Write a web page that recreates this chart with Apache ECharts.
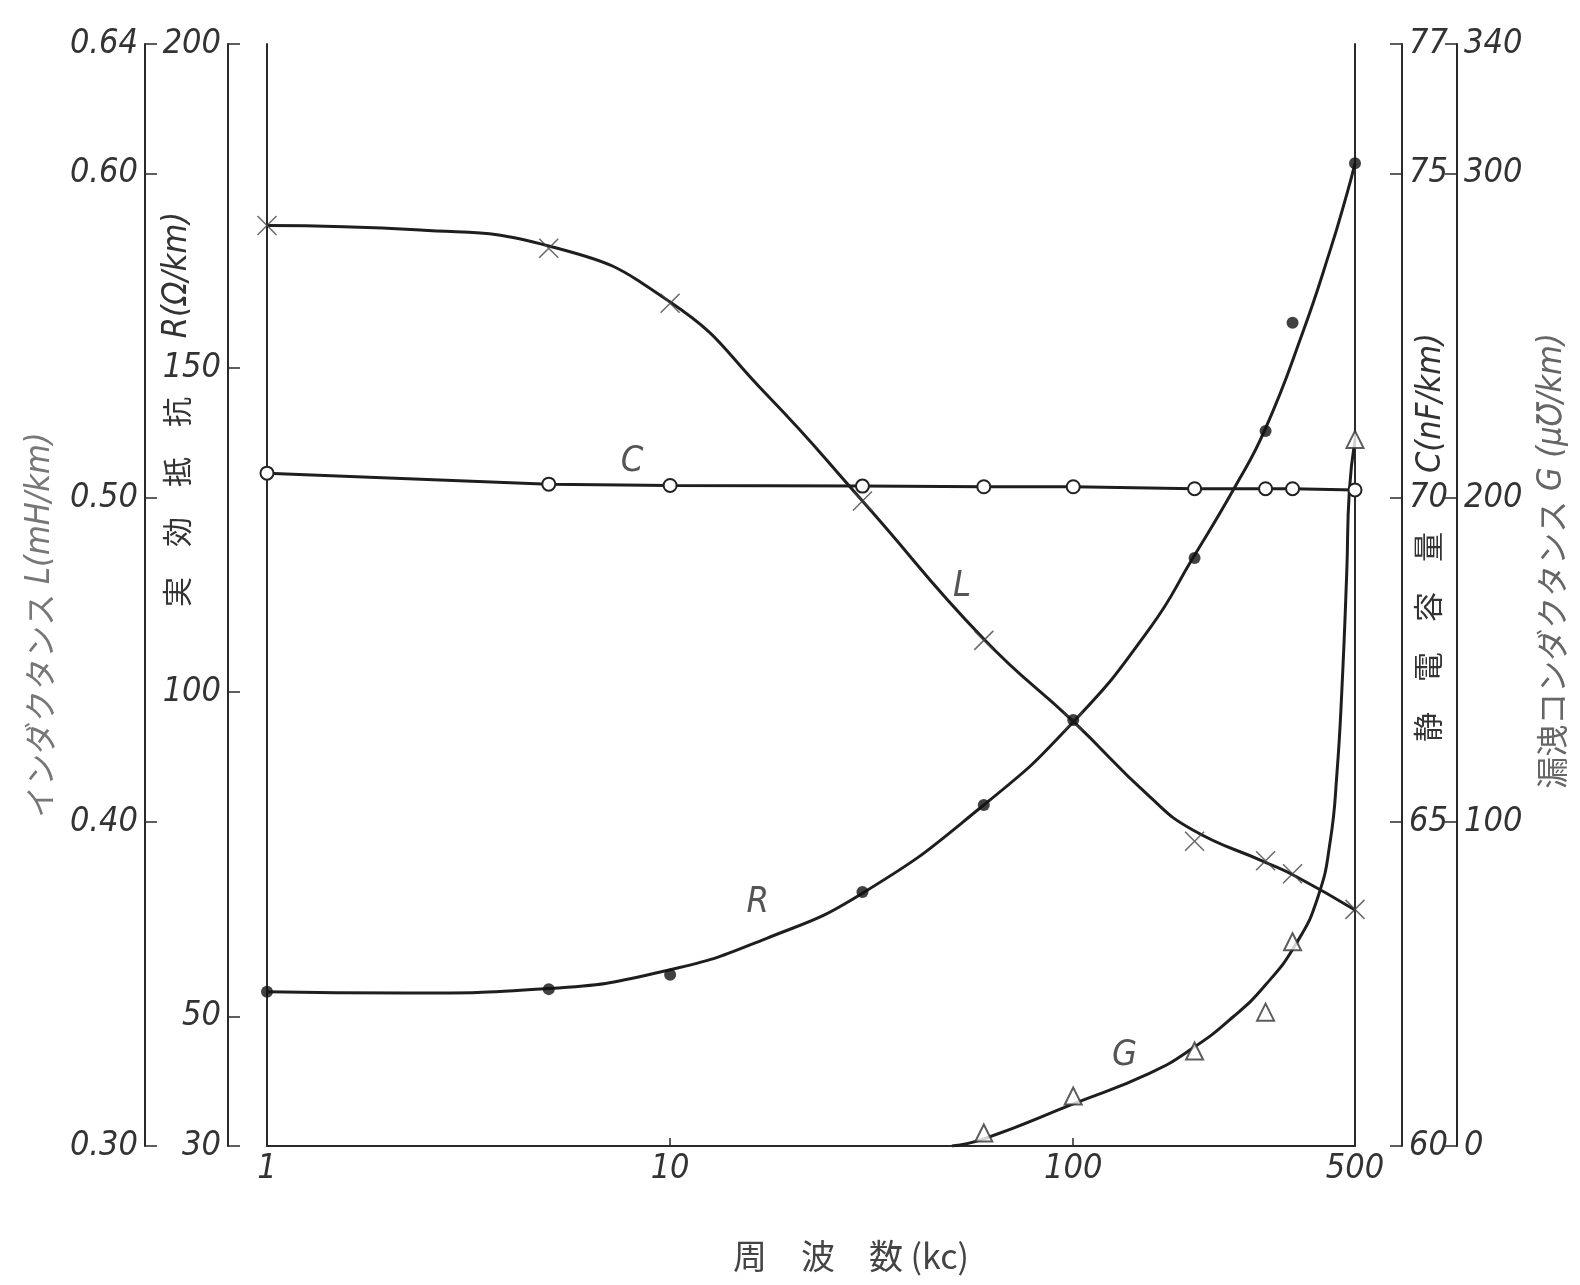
<!DOCTYPE html>
<html lang="ja">
<head>
<meta charset="utf-8">
<title>周波数特性</title>
<script src="https://cdn.jsdelivr.net/npm/echarts@6.0.0/dist/echarts.min.js"></script>
<style>
  html, body { margin: 0; padding: 0; background: #fff; }
  #chart { width: 1580px; height: 1285px; }
</style>
</head>
<body>
<div id="chart"></div>
<script>
// 測定周波数 (kc)
const freqs = [1, 5, 10, 30, 60, 100, 200, 300, 350, 500];
// 測定点
const lPoints = [0.584, 0.577, 0.560, 0.499, 0.456, 0.431, 0.394, 0.388, 0.384, 0.373];
const rPoints = [53.8, 54.2, 56.4, 69.2, 82.6, 95.7, 120.7, 140.3, 157.0, 181.6];
const cPoints = [70.38, 70.21, 70.19, 70.18, 70.17, 70.17, 70.14, 70.14, 70.14, 70.12];
const gFreqs = [60, 100, 200, 300, 350, 500];
const gPoints = [4, 15.4, 29.3, 41.3, 63, 218];

// 手描きの曲線
const lCurveF = [1, 2.4, 5, 10, 17.3, 30, 60, 100, 155, 198, 299, 359, 500];
const lCurve = [0.584, 0.5826, 0.5777, 0.5604, 0.532, 0.499, 0.4564, 0.431, 0.4077, 0.3975, 0.3876, 0.383, 0.3728];
const rCurveF = [1, 2.2, 5, 10, 17.3, 30, 60, 100, 155, 198, 252, 299, 369, 434, 478, 500];
const rCurve = [53.8, 53.6, 54.3, 57.2, 62.0, 69.0, 82.6, 95.4, 109.9, 120.7, 131.7, 140.5, 155.1, 168.2, 177, 181.6];
const gCurveF = [50, 60, 100, 155, 198, 249, 299, 358, 405, 434, 451, 464, 477, 484, 500];
const gCurve = [0, 2.2, 13.0, 22.5, 30.2, 39.8, 49.5, 62.6, 77, 94, 115, 141, 177, 202, 218];

// 目盛
const lTicks = [0.30, 0.40, 0.50, 0.60, 0.64];
const rTicks = [30, 50, 100, 150, 200];
const cTicks = [60, 65, 70, 75, 77];
const gTicks = [0, 100, 200, 300, 340];
const xTicks = [1, 10, 100, 500];

// 曲線名の位置 [kc, 値]
const cTag = [8.05, 70.55];
const lTag = [53, 0.4725];
const rTag = [16.5, 67.5];
const gTag = [134, 27.8];

const INK = '#1e1e1e';
const NUM_FONT = "'Liberation Sans Narrow', 'DejaVu Sans Condensed', 'Liberation Sans', sans-serif";
const JP_FONT = "'Noto Sans CJK JP', sans-serif";

const pair = (xs, ys) => xs.map((x, i) => [x, ys[i]]);

const numLabel = {
  fontSize: 34, fontStyle: 'italic', fontFamily: NUM_FONT, color: '#333'
};

function sideAxis(position, offset, min, max, ticks, fmt) {
  return {
    type: 'value', position, offset, min, max,
    splitLine: { show: false },
    axisLine: { show: true, lineStyle: { color: '#2a2a2a', width: 2 } },
    axisTick: { show: true, inside: true, length: 12, customValues: ticks, lineStyle: { color: '#2a2a2a', width: 1.5 } },
    axisLabel: { ...numLabel, customValues: ticks, formatter: fmt, margin: 7 }
  };
}

function frameAxis(position) {
  return {
    type: 'value', position, offset: 0, min: 0, max: 1,
    splitLine: { show: false },
    axisLine: { show: true, lineStyle: { color: '#2a2a2a', width: 2 } },
    axisTick: { show: false },
    axisLabel: { show: false }
  };
}

function tag(text, coord) {
  return {
    symbol: 'circle', symbolSize: 0, silent: true,
    label: { show: true, formatter: text, ...numLabel, fontSize: 36, color: '#555' },
    data: [{ coord }]
  };
}

const curve = { type: 'line', smooth: 0.5, showSymbol: false, silent: true, lineStyle: { color: INK, width: 3 } };

const chart = echarts.init(document.getElementById('chart'), null, { renderer: 'canvas' });

chart.setOption({
  backgroundColor: '#fff',
  animation: false,
  grid: { left: 267, right: 225, top: 44, bottom: 139 },
  xAxis: {
    type: 'log', logBase: 10, min: 1, max: 500,
    splitLine: { show: false },
    axisLine: { show: true, lineStyle: { color: '#2a2a2a', width: 2 } },
    axisTick: { show: true, inside: true, length: 8, lineStyle: { color: '#2a2a2a', width: 1.5 } },
    axisLabel: { ...numLabel, margin: 6, formatter: v => xTicks.includes(Math.round(v)) ? String(Math.round(v)) : '' }
  },
  yAxis: [
    sideAxis('left', 122, 0.30, 0.64, lTicks, v => v.toFixed(2)),
    sideAxis('left', 39, 30, 200, rTicks, v => String(v)),
    frameAxis('left'),
    sideAxis('right', 47, 60, 77, cTicks, v => String(v)),
    sideAxis('right', 102, 0, 340, gTicks, v => String(v)),
    frameAxis('right')
  ],
  series: [
    { ...curve, name: 'L', yAxisIndex: 0, data: pair(lCurveF, lCurve), markPoint: tag('L', lTag) },
    {
      type: 'scatter', yAxisIndex: 0, data: pair(freqs, lPoints),
      symbol: 'path://M0,0L10,10M10,0L0,10', symbolSize: 19,
      itemStyle: { color: 'rgba(0,0,0,0)', borderColor: '#444', borderWidth: 1.5 }, z: 3
    },
    { ...curve, name: 'R', yAxisIndex: 1, data: pair(rCurveF, rCurve), markPoint: tag('R', rTag) },
    {
      type: 'scatter', yAxisIndex: 1, data: pair(freqs, rPoints),
      symbol: 'circle', symbolSize: 12, itemStyle: { color: '#111' }, z: 3
    },
    {
      type: 'line', name: 'C', yAxisIndex: 3, data: pair(freqs, cPoints),
      symbol: 'emptyCircle', symbolSize: 13, showSymbol: true, silent: true,
      lineStyle: { color: INK, width: 3 },
      itemStyle: { color: '#222', borderWidth: 1.8 },
      markPoint: tag('C', cTag)
    },
    { ...curve, name: 'G', yAxisIndex: 4, data: pair(gCurveF, gCurve), markPoint: tag('G', gTag) },
    {
      type: 'scatter', yAxisIndex: 4, data: pair(gFreqs, gPoints),
      symbol: 'emptyTriangle', symbolSize: 17, itemStyle: { color: '#333', borderWidth: 1.5 }, z: 3
    }
  ],
  graphic: [
    {
      type: 'text', x: 40, y: 625, rotation: Math.PI / 2,
      style: {
        text: '{k|インダクタンス}{e| L(mH/km)}', align: 'center', verticalAlign: 'middle',
        rich: {
          k: { fontSize: 32, fontFamily: JP_FONT, fill: '#777' },
          e: { fontSize: 34, fontStyle: 'italic', fontFamily: NUM_FONT, fill: '#777' }
        }
      }
    },
    {
      type: 'text', x: 177, y: 502, rotation: Math.PI / 2,
      style: { text: '実　効　抵　抗', align: 'center', verticalAlign: 'middle', fontSize: 30, fontFamily: JP_FONT, fill: '#333' }
    },
    {
      type: 'text', x: 177, y: 275, rotation: Math.PI / 2,
      style: { text: 'R(Ω/km)', align: 'center', verticalAlign: 'middle', fontSize: 34, fontStyle: 'italic', fontFamily: NUM_FONT, fill: '#333' }
    },
    {
      type: 'text', x: 1428, y: 637, rotation: Math.PI / 2,
      style: { text: '静　電　容　量', align: 'center', verticalAlign: 'middle', fontSize: 30, fontFamily: JP_FONT, fill: '#333' }
    },
    {
      type: 'text', x: 1431, y: 403, rotation: Math.PI / 2,
      style: { text: 'C(nF/km)', align: 'center', verticalAlign: 'middle', fontSize: 34, fontStyle: 'italic', fontFamily: NUM_FONT, fill: '#333' }
    },
    {
      type: 'text', x: 1552, y: 561, rotation: Math.PI / 2,
      style: {
        text: '{k|漏洩コンダクタンス}{e| G (μ℧/km)}', align: 'center', verticalAlign: 'middle',
        rich: {
          k: { fontSize: 32, fontFamily: JP_FONT, fill: '#666' },
          e: { fontSize: 34, fontStyle: 'italic', fontFamily: NUM_FONT, fill: '#666' }
        }
      }
    },
    {
      type: 'text', x: 851, y: 1256,
      style: { text: '周　波　数 (kc)', align: 'center', verticalAlign: 'middle', fontSize: 34, fontFamily: JP_FONT, fill: '#444' }
    }
  ]
});

window.addEventListener('resize', () => chart.resize());
</script>
</body>
</html>
